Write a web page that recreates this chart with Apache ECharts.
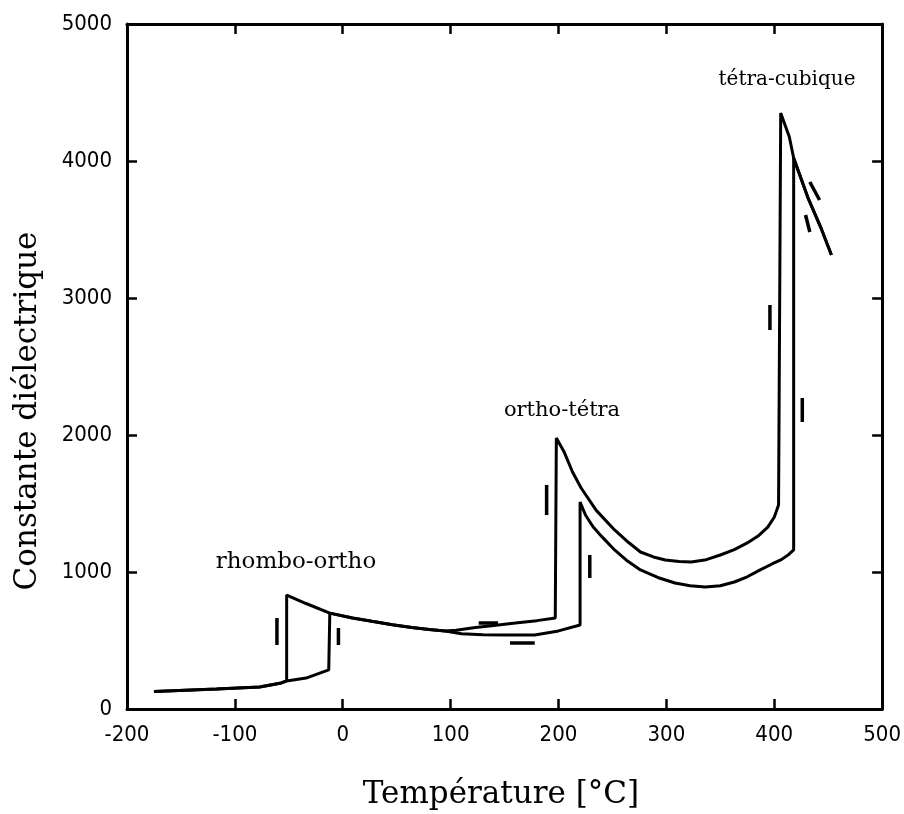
<!DOCTYPE html>
<html>
<head>
<meta charset="utf-8">
<script src="https://cdn.jsdelivr.net/npm/echarts@6/dist/echarts.min.js"></script>
<style>
html,body{margin:0;padding:0;background:#fff;}
#chart{width:904px;height:814px;}
</style>
</head>
<body>
<div id="chart"></div>
<script>
// ---- data (temperature in °C, dielectric constant) ----
const xTicks = [-200, -100, 0, 100, 200, 300, 400, 500];
const yTicks = [0, 1000, 2000, 3000, 4000, 5000];

// heating path
const heatT = [-175, -140, -117, -77, -57, -52, -34, -13, -12,
  9, 27, 46, 64, 80, 95, 110, 130, 150, 178, 200, 220,
  220, 225, 232, 240, 252, 264, 276, 292, 308, 322, 336, 350, 363, 375, 387, 397, 406, 413, 418,
  418, 431, 443, 453];
const heatV = [128, 139, 146, 161, 190, 205, 226, 285, 700,
  664, 640, 615, 595, 580, 569, 550, 542, 540, 540, 570, 613,
  1511, 1416, 1330, 1260, 1161, 1080, 1015, 960, 920, 900, 890, 900, 927, 965, 1015, 1055, 1088, 1125, 1161,
  4022, 3737, 3518, 3314];

// cooling path
const coolT = [453, 443, 431, 418, 414, 406, 404,
  400, 394, 385, 375, 363, 350, 337, 323, 312, 299, 288, 276, 265, 252, 235, 221, 213, 205, 198,
  197, 180, 160, 140, 123, 105, 95, 80, 64, 46, 27, 9, -12, -34, -52,
  -52, -57, -77, -117, -140, -175];
const coolV = [3314, 3518, 3737, 4022, 4175, 4350, 1489,
  1400, 1328, 1262, 1212, 1163, 1124, 1090, 1073, 1076, 1088, 1110, 1146, 1215, 1307, 1450, 1613, 1730, 1880, 1978,
  664, 645, 627, 610, 595, 575, 569, 580, 595, 615, 640, 664, 700, 770, 832,
  205, 190, 161, 146, 139, 128];

// direction marks drawn beside the curves: [T1, V1, T2, V2]
const arrowMarks = [
  [-61, 664, -61, 467],
  [-4, 591, -4, 467],
  [126, 628, 144, 628],
  [155, 482, 178, 482],
  [189, 1635, 189, 1416],
  [229, 1124, 229, 956],
  [396, 2949, 396, 2766],
  [426, 2270, 426, 2095],
  [433, 3847, 442, 3715],
  [429, 3606, 433, 3482]
];

const annotations = ['rhombo-ortho', 'ortho-tétra', 'tétra-cubique'];
const xTitle = 'Température [°C]';
const yTitle = 'Constante diélectrique';

// ---- chart ----
const chart = echarts.init(document.getElementById('chart'));
const pairs = (a, b) => a.map((t, i) => [t, b[i]]);
const tickFont = '"Liberation Sans Narrow", "DejaVu Sans Condensed", "Roboto Condensed", "Liberation Sans", sans-serif';
const serif = '"DejaVu Serif", "Liberation Serif", serif';

const axisCommon = {
  type: 'value',
  axisLine: {show: true, onZero: false, lineStyle: {color: '#000', width: 3}},
  axisTick: {show: true, inside: true, length: 10, lineStyle: {color: '#000', width: 2.5}},
  splitLine: {show: false}
};
const plain = v => String(v);

const series = [
  {name: 'heating', type: 'line', data: pairs(heatT, heatV), showSymbol: false, symbol: 'none',
   lineStyle: {color: '#000', width: 3}, z: 3, animation: false},
  {name: 'cooling', type: 'line', data: pairs(coolT, coolV), showSymbol: false, symbol: 'none',
   lineStyle: {color: '#000', width: 3}, z: 3, animation: false}
];
arrowMarks.forEach((m, i) => {
  series.push({name: 'mark' + i, type: 'line', data: [[m[0], m[1]], [m[2], m[3]]],
    showSymbol: false, symbol: 'none', lineStyle: {color: '#000', width: 3.5}, animation: false});
});

chart.setOption({
  backgroundColor: '#fff',
  animation: false,
  grid: {left: 127, right: 19, top: 24, bottom: 105, containLabel: false},
  xAxis: [
    Object.assign({}, axisCommon, {position: 'bottom', min: xTicks[0], max: xTicks[xTicks.length - 1], interval: 100,
      axisLabel: {show: true, color: '#000', fontSize: 22, fontFamily: tickFont, margin: 15, formatter: plain}}),
    Object.assign({}, axisCommon, {position: 'top', min: xTicks[0], max: xTicks[xTicks.length - 1], interval: 100,
      axisLabel: {show: false}})
  ],
  yAxis: [
    Object.assign({}, axisCommon, {position: 'left', min: yTicks[0], max: yTicks[yTicks.length - 1], interval: 1000,
      axisLabel: {show: true, color: '#000', fontSize: 22, fontFamily: tickFont, margin: 15, formatter: plain}}),
    Object.assign({}, axisCommon, {position: 'right', min: yTicks[0], max: yTicks[yTicks.length - 1], interval: 1000,
      axisLabel: {show: false}})
  ],
  series: series,
  graphic: [
    {type: 'text', x: 296, y: 562, style: {text: annotations[0], fontSize: 23, fontFamily: serif, fill: '#000', align: 'center', verticalAlign: 'middle'}},
    {type: 'text', x: 562, y: 411, style: {text: annotations[1], fontSize: 21, fontFamily: serif, fill: '#000', align: 'center', verticalAlign: 'middle'}},
    {type: 'text', x: 787, y: 80, style: {text: annotations[2], fontSize: 20, fontFamily: serif, fill: '#000', align: 'center', verticalAlign: 'middle'}},
    {type: 'text', x: 501, y: 795, style: {text: xTitle, fontSize: 31, fontFamily: serif, fill: '#000', align: 'center', verticalAlign: 'middle'}},
    {type: 'text', x: 28, y: 411, rotation: Math.PI / 2, style: {text: yTitle, fontSize: 31, fontFamily: serif, fill: '#000', align: 'center', verticalAlign: 'middle'}}
  ]
});
</script>
</body>
</html>
